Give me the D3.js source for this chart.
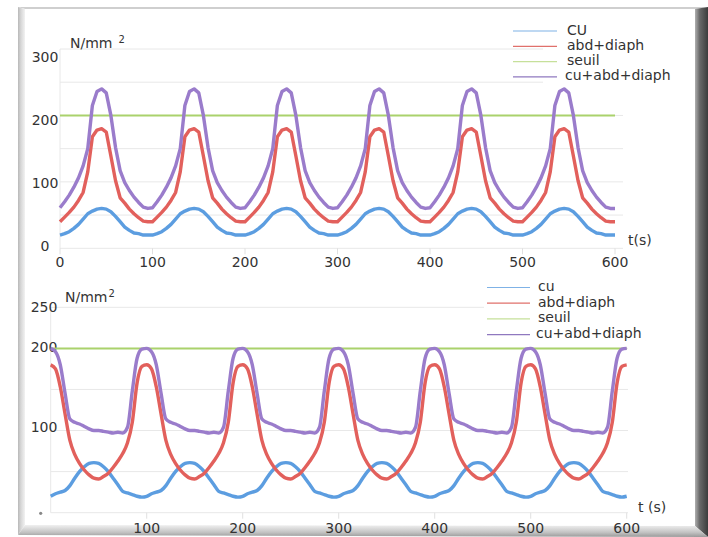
<!DOCTYPE html>
<html>
<head>
<meta charset="utf-8">
<script src="https://cdn.jsdelivr.net/npm/d3@7"></script>
<style>
body { margin: 0; background: #fff; }
text { font-family: "DejaVu Sans", sans-serif; fill: #333; }
</style>
</head>
<body>
<div id="chart"></div>
<script>
/*********************************************************** DONNEES *****/

const width = 708, height = 537;
const step = 5; // un echantillon toutes les 5 s, de 0 a 600 s

// graphique du haut
const cuTop = [
	20,22,25,30,36,44,52,56,59,60,59,55,48,40,32,27,23,22,20,20,
	20,22,25,30,36,44,52,56,59,60,59,55,48,40,32,27,23,22,20,20,
	20,22,25,30,36,44,52,56,59,60,59,55,48,40,32,27,23,22,20,20,
	20,22,25,30,36,44,52,56,59,60,59,55,48,40,32,27,23,22,20,20,
	20,22,25,30,36,44,52,56,59,60,59,55,48,40,32,27,23,22,20,20,
	20,22,25,30,36,44,52,56,59,60,59,55,48,40,32,27,23,22,20,20,
	20];
const abdTop = [
	40,47,54,62,72,84,115,168,178,180,175,139,102,76,68,59,52,46,41,40,
	40,47,54,62,72,84,115,168,178,180,175,139,102,76,68,59,52,46,41,40,
	40,47,54,62,72,84,115,168,178,180,175,139,102,76,68,59,52,46,41,40,
	40,47,54,62,72,84,115,168,178,180,175,139,102,76,68,59,52,46,41,40,
	40,47,54,62,72,84,115,168,178,180,175,139,102,76,68,59,52,46,41,40,
	40,47,54,62,72,84,115,168,178,180,175,139,102,76,68,59,52,46,41,40,
	40];
const sumTop = [
	61,70,80,92,106,124,150,215,236,240,234,200,152,117,99,87,77,69,62,60,
	61,70,80,92,106,124,150,215,236,240,234,200,152,117,99,87,77,69,62,60,
	61,70,80,92,106,124,150,215,236,240,234,200,152,117,99,87,77,69,62,60,
	61,70,80,92,106,124,150,215,236,240,234,200,152,117,99,87,77,69,62,60,
	61,70,80,92,106,124,150,215,236,240,234,200,152,117,99,87,77,69,62,60,
	61,70,80,92,106,124,150,215,236,240,234,200,152,117,99,87,77,69,62,60,
	60];
const seuilTop = 200;

// graphique du bas
const cuBot = [
	20,23,25,27,33,42,50,56,60,61,60,56,50,42,34,26,24,22,20,19,
	20,23,25,27,33,42,50,56,60,61,60,56,50,42,34,26,24,22,20,19,
	20,23,25,27,33,42,50,56,60,61,60,56,50,42,34,26,24,22,20,19,
	20,23,25,27,33,42,50,56,60,61,60,56,50,42,34,26,24,22,20,19,
	20,23,25,27,33,42,50,56,60,61,60,56,50,42,34,26,24,22,20,19,
	20,23,25,27,33,42,50,56,60,61,60,56,50,42,34,26,24,22,20,19,
	20];
const abdBot = [
	180,175,153,120,88,71,60,52,46,42,41,44,48,55,63,72,85,110,158,178,
	180,175,153,120,88,71,60,52,46,42,41,44,48,55,63,72,85,110,158,178,
	180,175,153,120,88,71,60,52,46,42,41,44,48,55,63,72,85,110,158,178,
	180,175,153,120,88,71,60,52,46,42,41,44,48,55,63,72,85,110,158,178,
	180,175,153,120,88,71,60,52,46,42,41,44,48,55,63,72,85,110,158,178,
	180,175,153,120,88,71,60,52,46,42,41,44,48,55,63,72,85,110,158,178,
	180];
const sumBot = [
	200,196,180,145,114,110,108,105,102,100,100,99,98,97,98,97,104,148,188,199,
	200,196,180,145,114,110,108,105,102,100,100,99,98,97,98,97,104,148,188,199,
	200,196,180,145,114,110,108,105,102,100,100,99,98,97,98,97,104,148,188,199,
	200,196,180,145,114,110,108,105,102,100,100,99,98,97,98,97,104,148,188,199,
	200,196,180,145,114,110,108,105,102,100,100,99,98,97,98,97,104,148,188,199,
	200,196,180,145,114,110,108,105,102,100,100,99,98,97,98,97,104,148,188,199,
	200];
const seuilBot = 200;

// axes et legendes
const xTicksTop = [0, 100, 200, 300, 400, 500, 600];
const yTicksTop = [0, 100, 200, 300];
const xTicksBot = [100, 200, 300, 400, 500, 600];
const yTicksBot = [100, 200, 250];
const gridTop = [0, 50, 100, 150, 200, 250, 300];
const gridBot = [0, 50, 100, 150, 200, 250];
const legendTop = ["CU", "abd+diaph", "seuil", "cu+abd+diaph"];
const legendBot = ["cu", "abd+diaph", "seuil", "cu+abd+diaph"];

const colors = ["#5b9de0", "#e2605c", "#aad26c", "#9a7bcb"];
const legendColors = ["#7fb2e6", "#e0706b", "#c6e09a", "#8f78bf"];

/*********************************************************** SVG *****/

const svg = d3.select("#chart")
	.append("svg")
	.attr("width", width)
	.attr("height", height);

const defs = svg.append("defs");
defs.append("filter").attr("id", "flou")
	.append("feGaussianBlur").attr("stdDeviation", 0.45);

function grad(id, x1, y1, x2, y2, stops) {
	const g = defs.append("linearGradient").attr("id", id)
		.attr("x1", x1).attr("y1", y1).attr("x2", x2).attr("y2", y2);
	stops.forEach(function(s) {
		g.append("stop").attr("offset", s[0]).attr("stop-color", s[1]);
	});
}
grad("gLeft", 0, 0, 1, 0, [[0, "#b8b8b8"], [0.4, "#d6d6d6"], [1, "#f2f2f2"]]);
grad("gRight", 0, 0, 1, 0, [[0, "#b0b0b0"], [0.35, "#6a6a6a"], [1, "#3c3c3c"]]);
grad("gBottom", 0, 0, 0, 1, [[0, "#f0f0f0"], [0.6, "#c4c4c4"], [1, "#9a9a9a"]]);

/*********************************************************** CADRE *****/

// le cadre est dessine en premier : les etiquettes du bas passent dessus
const cadre = svg.append("g");
cadre.append("polygon").attr("points", "18,7 708,7 697,9 25,9").style("fill", "#cfcfcf");
cadre.append("polygon").attr("points", "18,7 25,9 25,525 18,535").style("fill", "url(#gLeft)");
cadre.append("polygon").attr("points", "695,9 708,7 708,537 695,526").style("fill", "url(#gRight)");
cadre.append("polygon").attr("points", "25,525 695,526 708,537 18,535").style("fill", "url(#gBottom)");

/*********************************************************** GRAPHIQUE *****/

function drawPanel(o) {
	const x = d3.scaleLinear().domain([0, 600]).range(o.xRange);
	const y = d3.scaleLinear().domain(o.yDomain).range(o.yRange);
	const yLab = d3.scaleLinear().domain(o.yDomain).range(o.yLabRange);
	const g = svg.append("g");

	// grille
	g.selectAll("line.grid")
		.data(o.grid).enter()
		.append("line")
		.attr("x1", x(0)).attr("x2", function(d) { return d >= o.gridCut ? o.legendX : o.gridEnd; })
		.attr("y1", function(d) { return y(d); }).attr("y2", function(d) { return y(d); })
		.style("stroke", "#e8e8e8").style("stroke-width", 1);
	g.append("line")
		.attr("x1", x(0)).attr("x2", x(0))
		.attr("y1", y(0)).attr("y2", y(o.yDomain[1]))
		.style("stroke", "#e8e8e8");
	g.selectAll("line.tick")
		.data(o.xTicks).enter()
		.append("line")
		.attr("x1", function(d) { return x(d); }).attr("x2", function(d) { return x(d); })
		.attr("y1", y(0)).attr("y2", y(0) + 6)
		.style("stroke", "#e0e0e0");

	// etiquettes
	g.selectAll("text.y")
		.data(o.yTicks).enter()
		.append("text")
		.attr("x", o.yLabX).attr("y", function(d) { return yLab(d); })
		.style("text-anchor", "middle").style("font-size", "14px")
		.text(function(d) { return d; });
	g.selectAll("text.x")
		.data(o.xTicks).enter()
		.append("text")
		.attr("x", function(d) { return x(d); }).attr("y", o.xLabY)
		.style("text-anchor", "middle").style("font-size", "14px")
		.text(function(d) { return d; });

	const unit = g.append("text").attr("x", o.unitPos[0]).attr("y", o.unitPos[1]).style("font-size", "14px");
	unit.append("tspan").text(o.unitText);
	unit.append("tspan").attr("dy", -5).attr("dx", o.supDx).style("font-size", "10px").text("2");
	g.append("text").attr("x", o.tPos[0]).attr("y", o.tPos[1]).style("font-size", "14px").text(o.tText);

	// seuil
	g.append("line")
		.attr("x1", x(0)).attr("x2", x(600))
		.attr("y1", y(o.seuil)).attr("y2", y(o.seuil))
		.style("stroke", colors[2]).style("stroke-width", 2);

	// courbes
	const line = d3.line()
		.x(function(d, i) { return x(i * step); })
		.y(function(d) { return y(d); })
		.curve(o.curve);
	const series = [o.cu, o.abd, o.sum];
	const seriesColors = [colors[0], colors[1], colors[3]];
	g.selectAll("path.serie")
		.data(series).enter()
		.append("path")
		.attr("d", line)
		.attr("filter", "url(#flou)")
		.style("fill", "none")
		.style("stroke", function(d, i) { return seriesColors[i]; })
		.style("stroke-width", 3.4)
		.style("stroke-linejoin", "round");

	// legende
	g.append("rect")
		.attr("x", o.legendX).attr("y", o.legendY - 22)
		.attr("width", 150).attr("height", 4 * o.legendStep + 4)
		.style("fill", "#fff");
	const leg = g.selectAll("g.leg")
		.data(o.legend).enter()
		.append("g")
		.attr("transform", function(d, i) { return "translate(0," + (o.legendY + i * o.legendStep) + ")"; });
	leg.append("line")
		.attr("x1", o.legLine[0]).attr("x2", o.legLine[1])
		.attr("y1", -3.5).attr("y2", -3.5)
		.style("stroke", function(d, i) { return legendColors[i]; })
		.style("stroke-width", 1.2);
	leg.append("text")
		.attr("x", function(d, i) { return i == 3 ? o.legText - 2 : o.legText; })
		.style("font-size", "14px")
		.text(function(d) { return d; });
	return g;
}

drawPanel({
	xRange: [60, 615], yDomain: [0, 300], yRange: [248.3, 49], yLabRange: [251, 62],
	grid: gridTop, gridCut: 250, gridEnd: 623, legendX: 543,
	xTicks: xTicksTop, yTicks: yTicksTop, yLabX: 45, xLabY: 267,
	unitPos: [70, 48], unitText: "N/mm", supDx: 6, tPos: [628, 245], tText: "t(s)",
	seuil: seuilTop, cu: cuTop, abd: abdTop, sum: sumTop, curve: d3.curveLinear,
	legend: legendTop, legendY: 34.5, legendStep: 15.3, legLine: [513, 557], legText: 567
});

const bot = drawPanel({
	xRange: [50.7, 626.7], yDomain: [0, 250], yRange: [512.7, 307.3], yLabRange: [512, 312],
	grid: gridBot, gridCut: 250, gridEnd: 628, legendX: 484,
	xTicks: xTicksBot, yTicks: yTicksBot, yLabX: 44, xLabY: 533,
	unitPos: [65, 302], unitText: "N/mm", supDx: 1, tPos: [638, 512], tText: "t (s)",
	seuil: seuilBot, cu: cuBot, abd: abdBot, sum: sumBot, curve: d3.curveMonotoneX,
	legend: legendBot, legendY: 291, legendStep: 15.7, legLine: [487, 530], legText: 538
});
bot.append("circle").attr("cx", 40.7).attr("cy", 513.3).attr("r", 1.6).style("fill", "#888");
</script>
</body>
</html>
